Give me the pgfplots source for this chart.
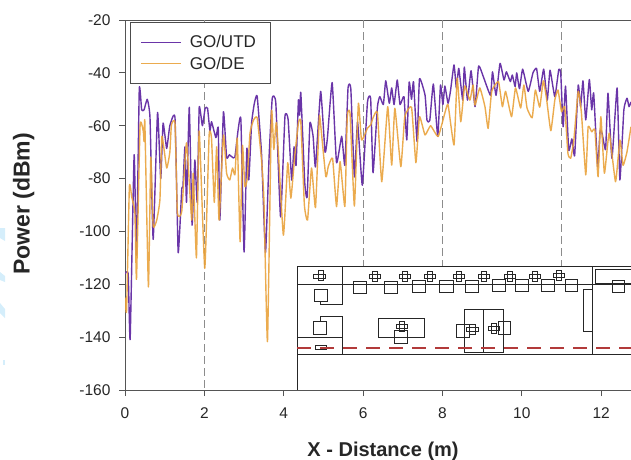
\documentclass[border=0pt]{standalone}
\usepackage{pgfplots}
\usepackage{fontspec}
\setmainfont{Liberation Sans}
\pgfplotsset{compat=1.18}
\definecolor{cpurple}{HTML}{6A35A8}
\definecolor{corange}{HTML}{E9A23B}
\definecolor{cgrid}{HTML}{8C8C8C}
\definecolor{cspine}{HTML}{555555}
\definecolor{cred}{HTML}{B23A3A}
\definecolor{cwater}{HTML}{D5EEFB}
\newcommand{\RR}[4]{\draw (#1,#2) rectangle (#3,#4);}
\newcommand{\PL}[2]{\draw[line width=1pt] ({#1-17},{#2-6}) rectangle ({#1+17},{#2+6}); \draw[line width=1pt] ({#1-8},{#2-15}) rectangle ({#1+8},{#2+15});}
\pgfplotstableread{
x y
0 -116
.08 -116
.13 -140.7
.23 -71
.29 -109
.36 -46
.42 -54
.48 -54
.56 -50
.63 -57
.71 -103
.82 -55
.90 -80
.96 -59
1.05 -68.6
1.13 -60
1.26 -57
1.34 -108
1.43 -84
1.46 -83
1.51 -68
1.55 -89
1.62 -53
1.69 -97.6
1.76 -73
1.82 -89
1.87 -53
1.95 -60
2.02 -53.4
2.08 -53.4
2.14 -62
2.18 -58.5
2.29 -64.5
2.35 -61
2.39 -95.7
2.48 -54.7
2.56 -72
2.63 -71
2.71 -72
2.77 -71.8
2.85 -61.6
2.92 -57.6
3.00 -107.8
3.07 -68.5
3.12 -80.5
3.19 -59
3.26 -51.5
3.33 -48.8
3.44 -70.5
3.54 -108
3.63 -72
3.71 -49.6
3.80 -51.4
3.92 -94.5
4.03 -56.6
4.11 -57.6
4.20 -80.6
4.26 -68
4.31 -75
4.37 -50.3
4.40 -56
4.43 -47.5
4.53 -81.7
4.59 -87
4.66 -59
4.74 -64
4.80 -75.6
4.93 -47
5.04 -70
5.10 -64.7
5.22 -43.7
5.33 -74
5.46 -64
5.54 -75
5.62 -45.7
5.69 -46
5.78 -79.4
5.86 -58.6
5.98 -82.5
6.11 -51
6.19 -49.7
6.25 -77.8
6.36 -53
6.42 -49
6.51 -52
6.57 -43
6.66 -51.5
6.72 -45.7
6.78 -52
6.86 -42.7
6.93 -52
7.03 -49
7.10 -65.4
7.16 -43.5
7.22 -50
7.27 -43.4
7.36 -66
7.42 -42.3
7.56 -48.4
7.61 -58
7.68 -58
7.77 -44.2
7.88 -64
7.95 -44.6
8.01 -52
8.06 -45
8.14 -51.5
8.20 -47
8.29 -37
8.35 -45.7
8.41 -38.3
8.51 -50.3
8.55 -37.8
8.63 -50.3
8.72 -39.2
8.82 -52.8
8.91 -37.4
9.03 -41.5
9.21 -48.5
9.26 -39.6
9.35 -48.5
9.45 -36.4
9.55 -42.7
9.61 -39.6
9.71 -43.3
9.76 -40.8
9.83 -45.2
9.87 -40
9.94 -46
10.02 -38.6
10.16 -47
10.28 -40
10.37 -38.3
10.45 -47
10.55 -38.6
10.64 -50.3
10.71 -39
10.83 -49
10.93 -38.7
10.98 -40.2
11.04 -60.4
11.10 -45
11.18 -69.2
11.26 -65
11.33 -71.3
11.42 -44.6
11.48 -52.8
11.54 -43
11.61 -57.8
11.70 -42.5
11.76 -54
11.81 -47.7
11.91 -75.5
11.97 -62
12.02 -62.8
12.11 -69
12.17 -47.7
12.27 -72.3
12.40 -45.7
12.47 -80.5
12.57 -54
12.65 -49.6
12.70 -52.8
12.75 -51
}\utd
\pgfplotstableread{
x y
0 -125
.04 -130
.11 -83
.17 -87
.25 -93
.29 -118
.38 -60
.46 -62
.48 -66
.50 -58.5
.59 -121
.65 -72
.71 -98
.80 -95.7
.88 -88
.93 -64
1.05 -76
1.13 -70
1.17 -59.7
1.26 -59
1.32 -93
1.43 -92.5
1.55 -66.5
1.68 -95.7
1.72 -78
1.80 -110
1.87 -62
2.01 -114
2.12 -63.5
2.18 -64.7
2.25 -89
2.31 -68
2.37 -95.7
2.48 -63.5
2.56 -78
2.64 -80.5
2.71 -76
2.77 -78.6
2.83 -64.7
2.90 -103.9
2.96 -67.4
3.02 -83
3.08 -80
3.15 -62.8
3.24 -57.8
3.33 -57
3.44 -73
3.50 -88
3.59 -141.7
3.69 -55
3.75 -69
3.82 -59
3.99 -101.4
4.10 -74
4.18 -87.4
4.28 -71
4.37 -59
4.43 -58.5
4.52 -90
4.60 -95.7
4.70 -76
4.80 -91
4.89 -59
4.91 -56.6
5.06 -79.3
5.12 -75.5
5.23 -72.3
5.33 -90.6
5.42 -73.6
5.54 -90.6
5.60 -56.6
5.67 -55.3
5.78 -90.4
5.88 -51.5
5.96 -65.4
6.11 -60.9
6.19 -59.7
6.25 -57
6.36 -55
6.47 -81.2
6.62 -52.8
6.72 -74.9
6.80 -53.4
6.95 -75.5
7.05 -56.6
7.22 -53
7.33 -74
7.42 -56.6
7.56 -63.5
7.70 -60
7.89 -64.1
8.06 -55.2
8.14 -52
8.29 -67.3
8.37 -42
8.46 -58.5
8.56 -45
8.69 -50.3
8.77 -44.6
8.82 -52.2
8.94 -45.7
9.07 -52.8
9.15 -61
9.24 -47
9.41 -43.3
9.51 -52.8
9.59 -47
9.74 -56.6
9.84 -45.7
9.97 -53.3
10.05 -44.6
10.13 -53.3
10.26 -57
10.34 -46.5
10.45 -53
10.54 -43
10.62 -49.6
10.73 -61.9
10.83 -50.3
10.91 -46.5
11.00 -54.7
11.08 -52.8
11.16 -70.4
11.23 -72.3
11.31 -65.4
11.42 -47
11.50 -55
11.61 -78.6
11.67 -60.4
11.76 -62.3
11.84 -61.6
11.92 -79.3
11.99 -56.6
12.08 -78
12.20 -62.8
12.36 -81.2
12.47 -65.4
12.55 -75
12.65 -69.8
12.75 -60.4
}\de
\begin{document}
\begin{tikzpicture}
\useasboundingbox (0,0) rectangle (631pt,459pt);
\fill[cwater] (0,231pt) -- (5pt,231pt) -- (5pt,218pt) -- (0,221pt) -- cycle;
\fill[cwater] (0,187pt) -- (5pt,183pt) -- (5pt,177pt) -- (0,179pt) -- cycle;
\fill[cwater] (0,156pt) -- (5pt,150pt) -- (5pt,141pt) -- (0,146pt) -- cycle;
\fill[cwater] (3pt,99pt) rectangle (5pt,94pt);
\begin{axis}[
  at={(125pt,69pt)}, anchor=south west,
  width=506pt, height=370pt, scale only axis,
  xmin=0, xmax=12.75, ymin=-160, ymax=-20,
  xtick={0,2,4,6,8,10,12}, ytick={-160,-140,-120,-100,-80,-60,-40,-20},
  axis x line*=box, axis y line*=left,
  xtick pos=bottom, ytick pos=left, tick align=outside,
  major tick length=6pt,
  axis line style={cspine, line width=1pt},
  tick style={cspine, line width=0.8pt},
  /pgf/number format/assume math mode=true,
  tick label style={font=\fontsize{15.5}{18}\selectfont, text=black!85},
  xticklabel style={yshift=-8pt},
  yticklabel style={xshift=-5pt},
  xlabel={X - Distance (m)}, ylabel={Power (dBm)},
  xlabel style={font=\fontsize{20}{22}\selectfont\bfseries, text=black!85, at={(rel axis cs:0.51,0)}, anchor=base, yshift=-66pt},
  ylabel style={font=\fontsize{23}{25}\selectfont\bfseries, text=black!85, at={(rel axis cs:-0.2,0.503)}, anchor=center, rotate=0},
  legend cell align=left,
  legend image code/.code={\draw[#1, line width=1.2pt] (0pt,0pt) -- (40pt,0pt); \path (43pt,0pt);},
  legend style={at={(rel axis cs:0.0099,0.9946)}, anchor=north west,
    draw=black!70, line width=1pt, fill=white, inner xsep=10pt, inner ysep=12pt,
    row sep=6pt,
    font=\fontsize{17}{21.7}\selectfont, text=black!85,
    legend columns=1, nodes={inner ysep=0.8pt, inner xsep=5pt}},
]
\addplot[forget plot, cgrid, line width=1pt, dash pattern=on 8pt off 4pt] coordinates {(2,-20) (2,-160)};
\addplot[forget plot, cgrid, line width=1pt, dash pattern=on 8pt off 4pt] coordinates {(6,-20) (6,-160)};
\addplot[forget plot, cgrid, line width=1pt, dash pattern=on 8pt off 4pt] coordinates {(8,-20) (8,-160)};
\addplot[forget plot, cgrid, line width=1pt, dash pattern=on 8pt off 4pt] coordinates {(11,-20) (11,-160)};
\addplot[cpurple, line width=1.4pt, line join=round, smooth, tension=0.25] table[x=x,y=y] {\utd};
\addlegendentry{GO/UTD\hspace{4pt}}
\addplot[corange, opacity=0.9, line width=1.4pt, line join=round, smooth, tension=0.25] table[x=x,y=y] {\de};
\addlegendentry{GO/DE}
\end{axis}
\begin{scope}
\clip (0,0) rectangle (631pt,459pt);
\begin{scope}[shift={(290pt,199pt)}, x=0.3333pt, y=-0.3333pt, draw=black!85, line width=1pt]
\fill[white] (22,18) rectangle (1030,390);
\draw (22,390) -- (22,18) -- (1030,18);
\draw (22,72) -- (1030,72);
\draw (22,285) -- (1030,285);
\draw (22,232) -- (158,232);
\draw (158,18) -- (158,133) -- (92,133) -- (92,126);
\draw (92,185) -- (92,170) -- (158,170) -- (158,285);
\draw (908,18) -- (908,285);
\RR{882}{88}{908}{216}
\RR{917}{27}{1030}{70}
\RR{967}{62}{1005}{98}
\RR{72}{88}{112}{126}
\RR{70}{185}{110}{225}
\RR{75}{256}{110}{269}
\RR{70}{42}{105}{55}
\RR{85}{32}{100}{62}
\PL{255}{48}\PL{345}{48}\PL{420}{48}\PL{507}{48}\PL{582}{48}\PL{660}{48}\PL{735}{48}\PL{808}{46}
\RR{190}{64}{230}{100}
\RR{285}{65}{324}{100}
\RR{368}{62}{408}{98}
\RR{450}{62}{490}{98}
\RR{527}{62}{565}{98}
\RR{608}{58}{647}{93}
\RR{678}{58}{717}{93}
\RR{755}{58}{793}{93}
\RR{826}{58}{864}{93}
\RR{265}{177}{403}{232}
\PL{337}{200}
\RR{313}{213}{353}{250}
\RR{523}{150}{581}{277}
\RR{581}{150}{640}{277}
\RR{500}{195}{538}{232}
\RR{626}{185}{663}{223}
\PL{548}{208}\PL{613}{207}
\draw[cred, line width=1.6pt, dash pattern=on 14pt off 9pt] (22,264) -- (1030,264);
\end{scope}
\end{scope}
\end{tikzpicture}
\end{document}
